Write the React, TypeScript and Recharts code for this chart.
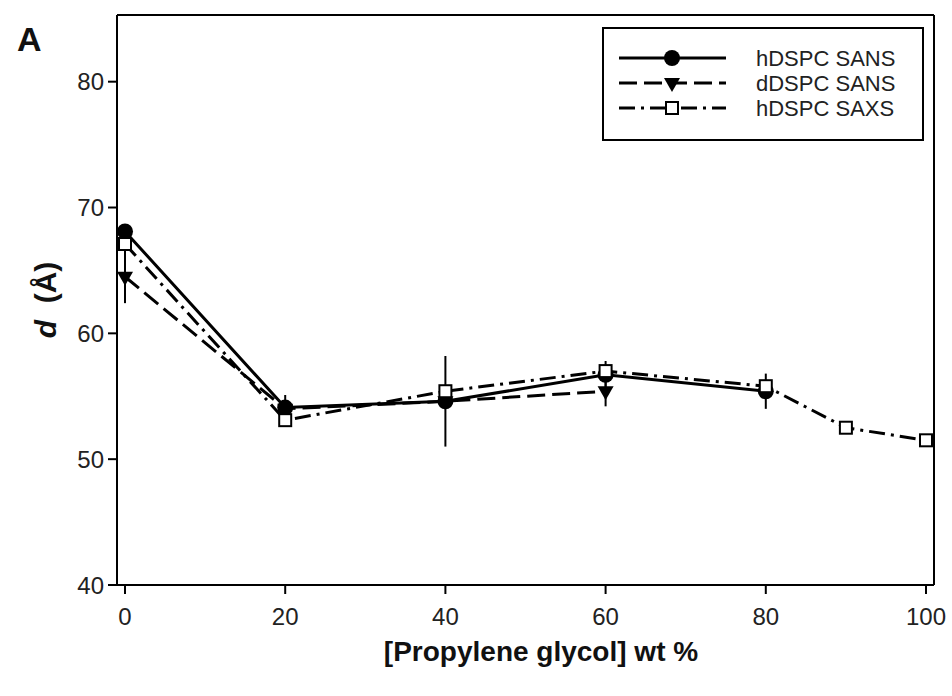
import { LineChart, Line, XAxis, YAxis, ErrorBar, Legend, ReferenceLine } from "recharts";

const wtPercent = [0, 20, 40, 60, 80, 90, 100];
const hSans = [68.1, 54.1, 54.6, 56.7, 55.4, null, null];
const hSansErr = [0, 1.0, 3.6, 1.1, 1.4, null, null];
const dSans = [64.5, 54.0, 54.6, 55.4, null, null, null];
const dSansErr = [2.1, 0, 0, 1.2, null, null, null];
const hSaxs = [67.1, 53.1, 55.4, 57.0, 55.8, 52.5, 51.5];

const seriesNames = ["hDSPC SANS", "dDSPC SANS", "hDSPC SAXS"];
const xTicks = [0, 20, 40, 60, 80, 100];
const yTicks = [40, 50, 60, 70, 80];

const FONT = "'Liberation Sans', Arial, sans-serif";
const Y_MAX = 85.3;

const data = wtPercent.map((x, i) => ({
  x,
  hSans: hSans[i],
  hSansErr: hSansErr[i],
  dSans: dSans[i],
  dSansErr: dSansErr[i],
  hSaxs: hSaxs[i],
}));

const CircleDot = (p: any) => {
  if (p.cx == null || p.cy == null || p.value == null) return <g key={`c-${p.index}`} />;
  return <circle key={`c-${p.index}`} cx={p.cx} cy={p.cy} r={8} fill="#000" />;
};

const TriangleDot = (p: any) => {
  if (p.cx == null || p.cy == null || p.value == null) return <g key={`t-${p.index}`} />;
  const { cx, cy } = p;
  return (
    <path
      key={`t-${p.index}`}
      d={`M${cx - 8},${cy - 5} L${cx + 8},${cy - 5} L${cx},${cy + 9} Z`}
      fill="#000"
    />
  );
};

const SquareDot = (p: any) => {
  if (p.cx == null || p.cy == null || p.value == null) return <g key={`s-${p.index}`} />;
  return (
    <rect
      key={`s-${p.index}`}
      x={p.cx - 6}
      y={p.cy - 6}
      width={12}
      height={12}
      fill="#fff"
      stroke="#000"
      strokeWidth={2}
    />
  );
};

const legendStyles = [
  { dash: undefined, marker: "circle" },
  { dash: "18 7", marker: "triangle" },
  { dash: "16 6 3 6", marker: "square" },
];

const renderLegend = () => (
  <svg width={322} height={114} style={{ display: "block" }}>
    <rect x={1} y={1} width={320} height={112} fill="#fff" stroke="#000" strokeWidth={2} />
    {seriesNames.map((name, i) => {
      const cy = 31 + i * 25;
      const st = legendStyles[i];
      const mx = 70;
      return (
        <g key={name}>
          <line x1={17} x2={124} y1={cy} y2={cy} stroke="#000" strokeWidth={3} strokeDasharray={st.dash} />
          {st.marker === "circle" && <circle cx={mx} cy={cy} r={8} fill="#000" />}
          {st.marker === "triangle" && (
            <path d={`M${mx - 8},${cy - 5} L${mx + 8},${cy - 5} L${mx},${cy + 9} Z`} fill="#000" />
          )}
          {st.marker === "square" && (
            <rect x={mx - 6} y={cy - 6} width={12} height={12} fill="#fff" stroke="#000" strokeWidth={2} />
          )}
          <text x={154} y={cy} dominantBaseline="central" fontSize={22} fontFamily={FONT} fill="#222">
            {name}
          </text>
        </g>
      );
    })}
  </svg>
);

export default function App() {
  return (
    <div style={{ position: "absolute", left: 0, top: 0, width: 952, height: 696, background: "#fff" }}>
      <div
        style={{
          position: "absolute",
          left: 17,
          top: 22,
          fontFamily: FONT,
          fontWeight: "bold",
          fontSize: 34,
          lineHeight: 1,
          color: "#111",
        }}
      >
        A
      </div>
      <LineChart width={952} height={696} data={data} margin={{ top: 15, right: 18, bottom: 0, left: 0 }}>
        <XAxis
          dataKey="x"
          type="number"
          domain={[-1, 101]}
          ticks={xTicks}
          height={111}
          axisLine={{ stroke: "#000", strokeWidth: 2 }}
          tickLine={{ stroke: "#000", strokeWidth: 2 }}
          tickSize={9}
          tickMargin={14}
          tick={{ fontSize: 24, fill: "#222", fontFamily: FONT }}
          label={(props: any) => (
            <text
              x={541}
              y={651}
              textAnchor="middle"
              dominantBaseline="central"
              fontSize={28}
              fontWeight="bold"
              fontFamily={FONT}
              fill="#111"
            >
              [Propylene glycol] wt %
            </text>
          )}
        />
        <YAxis
          type="number"
          domain={[40, Y_MAX]}
          ticks={yTicks}
          width={117}
          axisLine={{ stroke: "#000", strokeWidth: 2 }}
          tickLine={{ stroke: "#000", strokeWidth: 2 }}
          tickSize={9}
          tickMargin={4}
          tick={{ fontSize: 24, fill: "#222", fontFamily: FONT }}
          label={(props: any) => (
            <text
              x={45}
              y={300}
              transform="rotate(-90, 45, 300)"
              textAnchor="middle"
              dominantBaseline="central"
              fontSize={30}
              fontWeight="bold"
              fontFamily={FONT}
              fill="#111"
            >
              <tspan fontStyle="italic">d</tspan>
              <tspan>{"\u00a0\u00a0(Å)"}</tspan>
            </text>
          )}
        />
        <ReferenceLine y={Y_MAX} stroke="#000" strokeWidth={2} />
        <ReferenceLine x={101} stroke="#000" strokeWidth={2} />
        <Line
          dataKey="hSans"
          name={seriesNames[0]}
          stroke="#000"
          strokeWidth={3}
          dot={CircleDot}
          activeDot={false}
          isAnimationActive={false}
        >
          <ErrorBar dataKey="hSansErr" direction="y" width={0} stroke="#000" strokeWidth={2} />
        </Line>
        <Line
          dataKey="dSans"
          name={seriesNames[1]}
          stroke="#000"
          strokeWidth={3}
          strokeDasharray="18 7"
          dot={TriangleDot}
          activeDot={false}
          isAnimationActive={false}
        >
          <ErrorBar dataKey="dSansErr" direction="y" width={0} stroke="#000" strokeWidth={2} />
        </Line>
        <Line
          dataKey="hSaxs"
          name={seriesNames[2]}
          stroke="#000"
          strokeWidth={3}
          strokeDasharray="16 6 3 6"
          dot={SquareDot}
          activeDot={false}
          isAnimationActive={false}
        />
        <Legend
          layout="vertical"
          align="center"
          verticalAlign="middle"
          content={renderLegend}
          wrapperStyle={{ position: "absolute", left: 602, top: 27, width: 322, height: 114 }}
        />
      </LineChart>
    </div>
  );
}
